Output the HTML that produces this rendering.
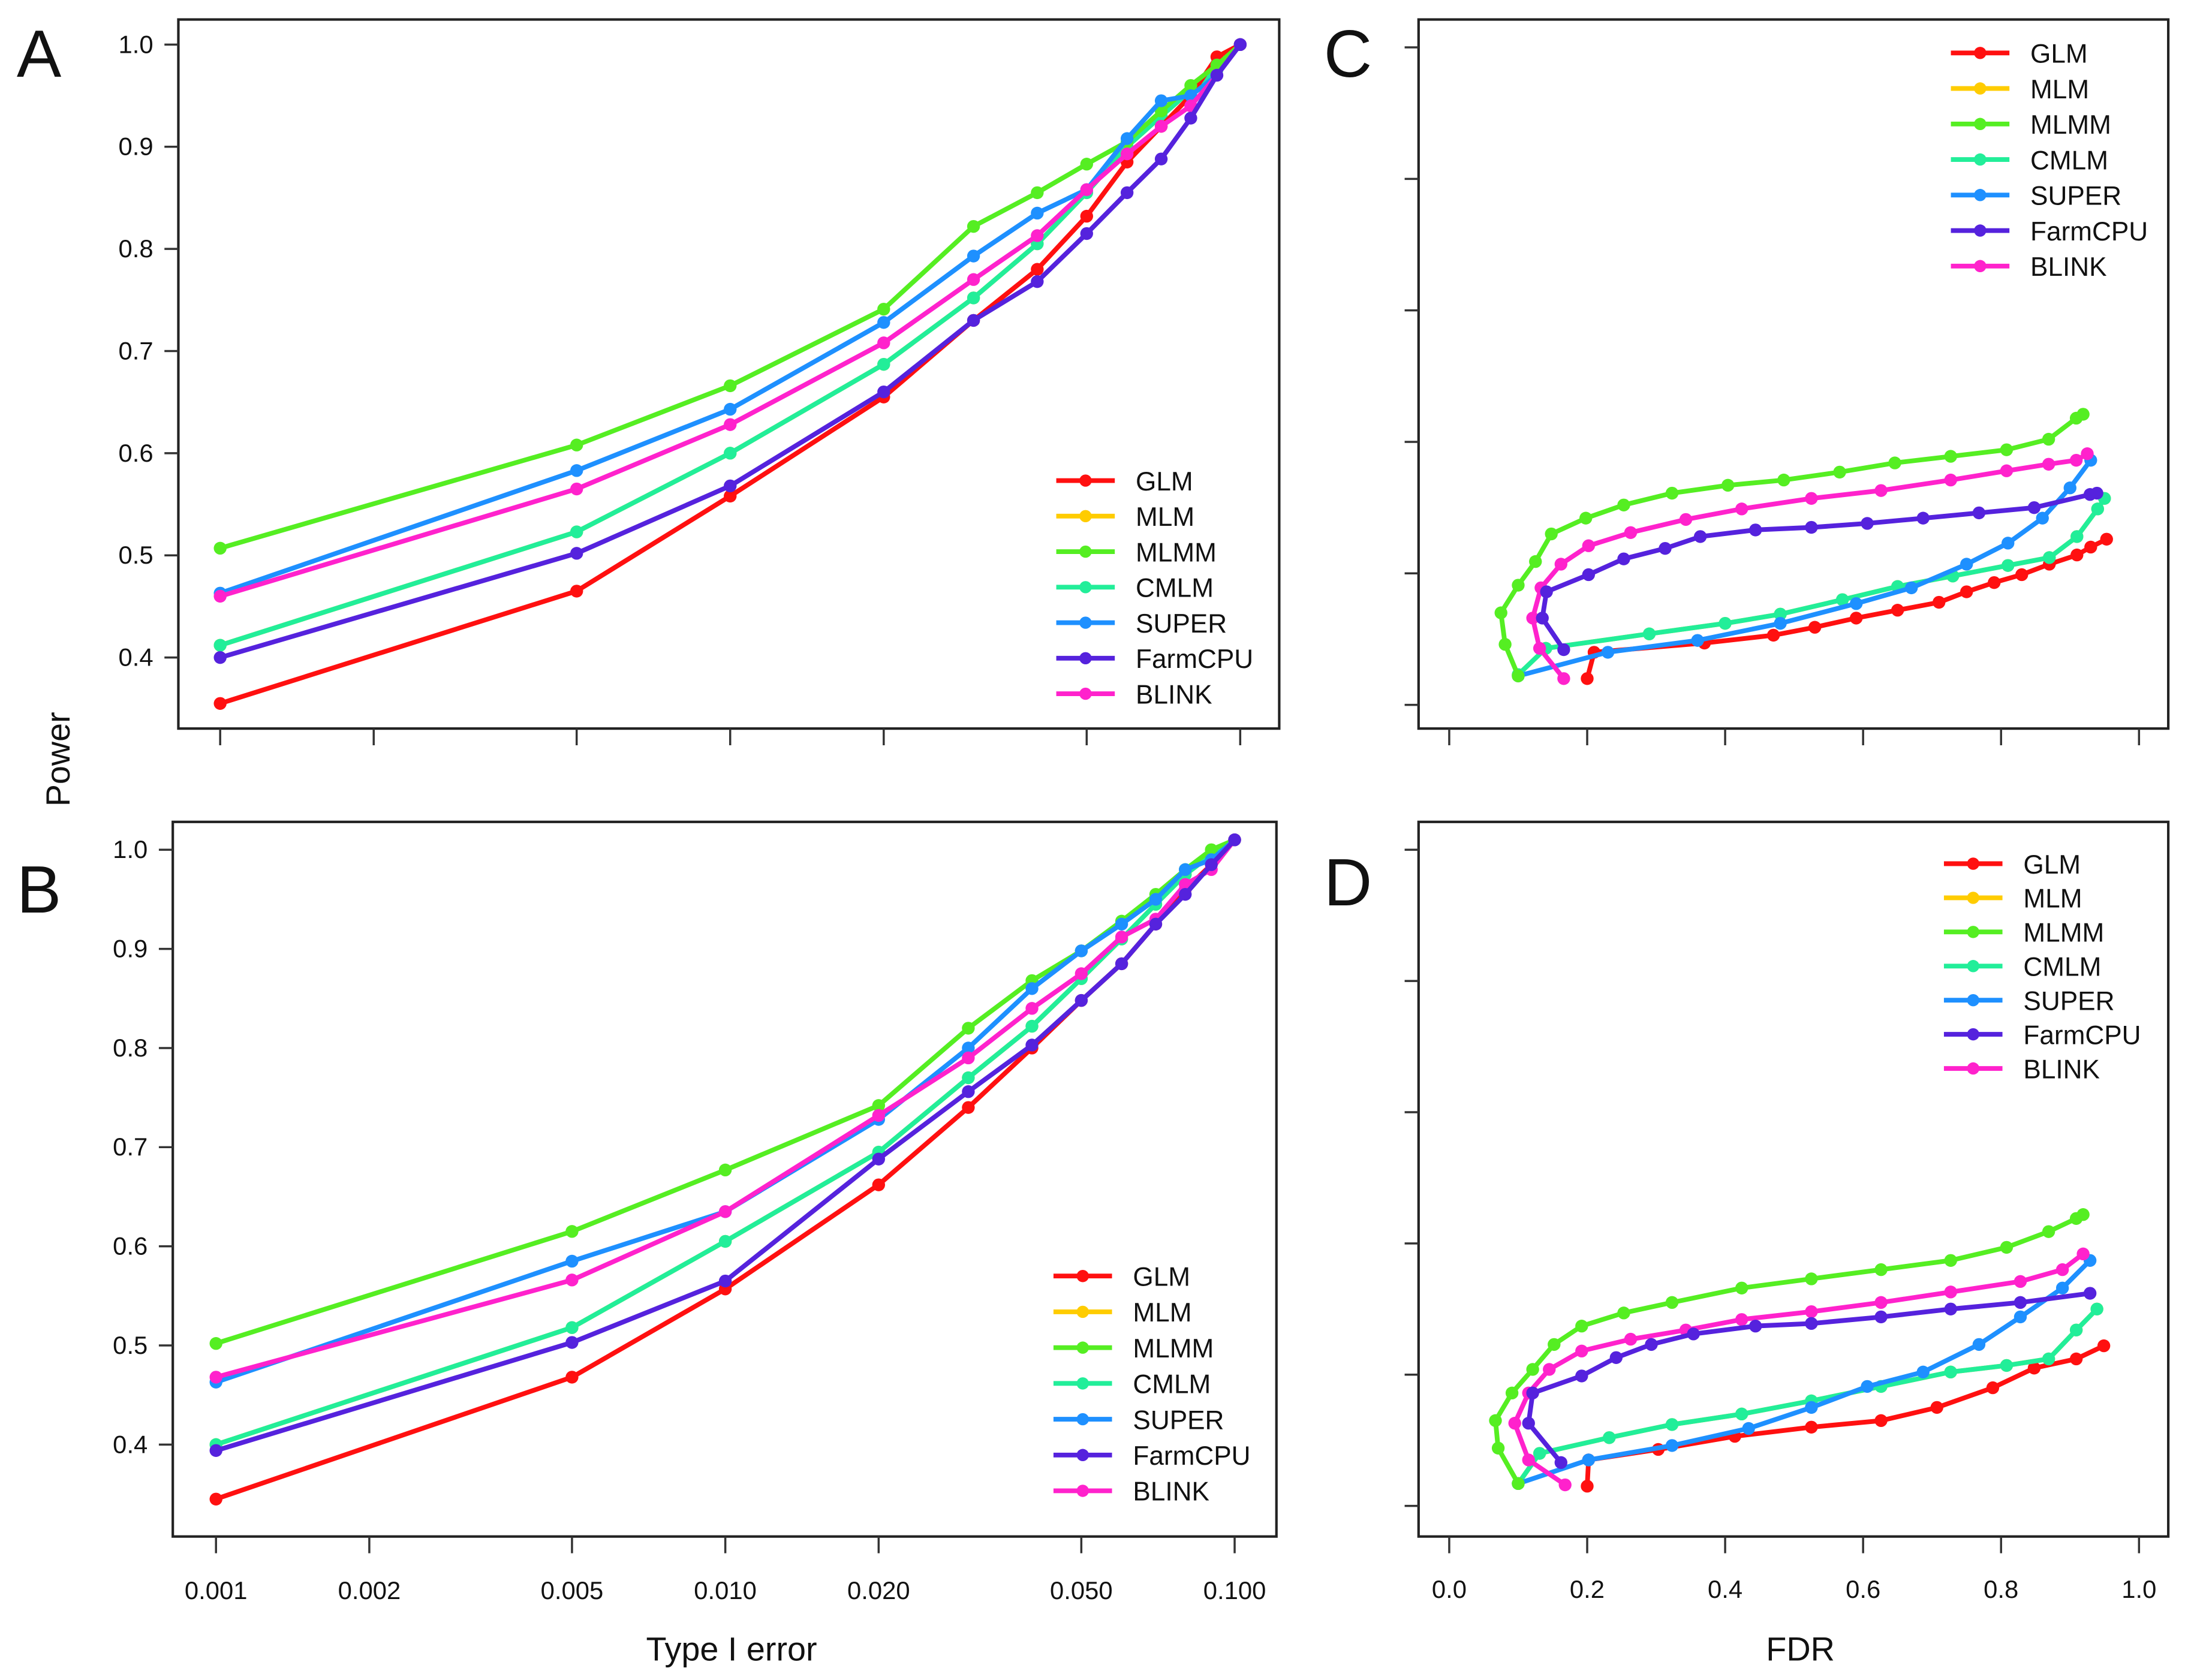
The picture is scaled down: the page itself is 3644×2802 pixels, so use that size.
<!DOCTYPE html>
<html><head><meta charset="utf-8"><style>
html,body{margin:0;padding:0;background:#fff;}
svg{display:block;font-family:"Liberation Sans",sans-serif;}
</style></head><body>
<svg id="fig" width="3644" height="2802" viewBox="0 0 1568 1206" preserveAspectRatio="none" xmlns="http://www.w3.org/2000/svg"></svg>
<script>
const methods = ["GLM","MLM","MLMM","CMLM","SUPER","FarmCPU","BLINK"];
const colors = ["#ff1010","#ffcc00","#55ee22","#22ee99","#1e90ff","#5522dd","#ff22cc"];
const typeIErrors = [0.001,0.005,0.01,0.02,0.03,0.04,0.05,0.06,0.07,0.08,0.09,0.1];
const xTickLabelsA = ["0.001","0.002","0.005","0.010","0.020","0.050","0.100"];
const xTickValsA = [0.001,0.002,0.005,0.01,0.02,0.05,0.1];
const yTickVals = [0.4,0.5,0.6,0.7,0.8,0.9,1.0];
const fdrTicks = [0,0.2,0.4,0.6,0.8,1.0];
const fdrTickLabels = ["0.0","0.2","0.4","0.6","0.8","1.0"];
const powerTicksCD = [0.3,0.4,0.5,0.6,0.7,0.8];

const A_GLM = [0.355,0.465,0.558,0.655,0.73,0.78,0.832,0.885,0.92,0.95,0.988,1.0];
const A_MLMM = [0.507,0.608,0.666,0.741,0.822,0.855,0.883,0.905,0.935,0.96,0.98,1.0];
const A_CMLM = [0.412,0.523,0.6,0.687,0.752,0.805,0.855,0.9,0.93,0.955,0.975,1.0];
const A_MLM = A_CMLM.slice();
const A_SUPER = [0.463,0.583,0.643,0.728,0.793,0.835,0.858,0.908,0.945,0.95,0.97,1.0];
const A_FarmCPU = [0.4,0.502,0.568,0.66,0.73,0.768,0.815,0.855,0.888,0.928,0.97,1.0];
const A_BLINK = [0.46,0.565,0.628,0.708,0.77,0.813,0.858,0.893,0.92,0.94,0.97,1.0];

const B_GLM = [0.345,0.468,0.557,0.662,0.74,0.8,0.848,0.885,0.925,0.96,0.985,1.01];
const B_MLMM = [0.502,0.615,0.677,0.742,0.82,0.868,0.898,0.928,0.955,0.98,1.0,1.01];
const B_CMLM = [0.4,0.518,0.605,0.695,0.77,0.822,0.87,0.91,0.945,0.975,0.995,1.01];
const B_MLM = B_CMLM.slice();
const B_SUPER = [0.463,0.585,0.635,0.728,0.8,0.86,0.898,0.925,0.95,0.98,0.99,1.01];
const B_FarmCPU = [0.394,0.503,0.565,0.688,0.756,0.803,0.848,0.885,0.925,0.955,0.985,1.01];
const B_BLINK = [0.468,0.566,0.635,0.732,0.79,0.84,0.875,0.912,0.93,0.965,0.98,1.01];

const C_GLM_fdr = [0.2,0.21,0.37,0.47,0.53,0.59,0.65,0.71,0.75,0.79,0.83,0.87,0.91,0.93,0.953];
const C_GLM_pow = [0.32,0.34,0.347,0.353,0.359,0.366,0.372,0.378,0.386,0.393,0.399,0.407,0.414,0.42,0.426];
const C_CMLM_fdr = [0.10,0.14,0.29,0.40,0.48,0.57,0.65,0.73,0.81,0.87,0.91,0.94,0.95];
const C_CMLM_pow = [0.323,0.343,0.354,0.362,0.369,0.38,0.39,0.398,0.406,0.412,0.428,0.449,0.457];
const C_SUPER_fdr = [0.10,0.23,0.36,0.48,0.59,0.67,0.75,0.81,0.86,0.90,0.93];
const C_SUPER_pow = [0.322,0.34,0.349,0.362,0.377,0.389,0.407,0.423,0.442,0.465,0.486];
const C_MLMM_fdr = [0.10,0.081,0.075,0.10,0.125,0.148,0.198,0.253,0.323,0.404,0.485,0.566,0.646,0.727,0.808,0.869,0.909,0.919];
const C_MLMM_pow = [0.322,0.346,0.37,0.391,0.409,0.43,0.442,0.452,0.461,0.467,0.471,0.477,0.484,0.489,0.494,0.502,0.518,0.521];
const C_FarmCPU_fdr = [0.166,0.135,0.141,0.202,0.253,0.313,0.364,0.444,0.525,0.606,0.687,0.768,0.848,0.929,0.939];
const C_FarmCPU_pow = [0.342,0.366,0.386,0.399,0.411,0.419,0.428,0.433,0.435,0.438,0.442,0.446,0.45,0.46,0.461];
const C_BLINK_fdr = [0.166,0.131,0.121,0.133,0.162,0.202,0.263,0.343,0.424,0.525,0.626,0.727,0.808,0.869,0.909,0.925];
const C_BLINK_pow = [0.32,0.343,0.366,0.389,0.407,0.421,0.431,0.441,0.449,0.457,0.463,0.471,0.478,0.483,0.486,0.491];

const D_GLM_fdr = [0.2,0.202,0.303,0.414,0.525,0.626,0.707,0.788,0.848,0.909,0.949];
const D_GLM_pow = [0.315,0.335,0.343,0.353,0.36,0.365,0.375,0.39,0.405,0.412,0.422];
const D_CMLM_fdr = [0.10,0.131,0.232,0.323,0.424,0.525,0.626,0.727,0.808,0.869,0.909,0.939];
const D_CMLM_pow = [0.317,0.34,0.352,0.362,0.37,0.38,0.391,0.402,0.407,0.412,0.434,0.45];
const D_SUPER_fdr = [0.10,0.202,0.323,0.434,0.525,0.606,0.687,0.768,0.828,0.889,0.929];
const D_SUPER_pow = [0.317,0.335,0.346,0.359,0.375,0.391,0.402,0.423,0.444,0.466,0.487];
const D_MLMM_fdr = [0.10,0.071,0.067,0.091,0.121,0.152,0.192,0.253,0.323,0.424,0.525,0.626,0.727,0.808,0.869,0.909,0.919];
const D_MLMM_pow = [0.317,0.344,0.365,0.386,0.404,0.423,0.437,0.447,0.455,0.466,0.473,0.48,0.487,0.497,0.509,0.519,0.522];
const D_FarmCPU_fdr = [0.162,0.115,0.121,0.192,0.242,0.293,0.354,0.444,0.525,0.626,0.727,0.828,0.929];
const D_FarmCPU_pow = [0.333,0.363,0.386,0.399,0.413,0.423,0.431,0.437,0.439,0.444,0.45,0.455,0.462];
const D_BLINK_fdr = [0.168,0.115,0.095,0.115,0.145,0.192,0.263,0.343,0.424,0.525,0.626,0.727,0.828,0.889,0.919];
const D_BLINK_pow = [0.316,0.335,0.363,0.386,0.404,0.418,0.427,0.434,0.442,0.448,0.455,0.463,0.471,0.48,0.492];

const NS = "http://www.w3.org/2000/svg";
const svg = document.getElementById("fig");
function mk(tag, attrs, parent){
  const e = document.createElementNS(NS, tag);
  for (const k in attrs) e.setAttribute(k, attrs[k]);
  (parent||svg).appendChild(e);
  return e;
}
function txt(s, x, y, size, anchor, parent, rot){
  const t = mk("text", {x:x, y:y, "font-size":size, "text-anchor":anchor||"middle", fill:"#111"}, parent);
  if (rot) t.setAttribute("transform", rot);
  t.textContent = s;
  return t;
}
function series(g, xs, ys, sx, sy, color, name){
  const pts = xs.map((v,i)=>sx(v).toFixed(1)+","+sy(ys[i]).toFixed(1)).join(" ");
  const pl = mk("polyline", {points:pts, fill:"none", stroke:color, "stroke-width":3.4, "stroke-linejoin":"round"}, g);
  
  
  xs.forEach((v,i)=>{
    const c = mk("circle", {cx:sx(v), cy:sy(ys[i]), r:4.6, fill:color}, g);
    
    
  });
}
function legend(g, x, y0, dy){
  methods.forEach((m,i)=>{
    const y = y0 + i*dy;
    const le = mk("g", {}, g);
    
    
    mk("line", {x1:x, x2:x+42, y1:y, y2:y, stroke:colors[i], "stroke-width":3.4}, le);
    mk("circle", {cx:x+21, cy:y, r:4.4, fill:colors[i]}, le);
    txt(m, x+57, y+7, 19, "start", le);
  });
}
function panelLetter(s, x, y){
  const t = txt(s, x, y, 48, "start");
  
  
}

function panelAB(id, box, x0px, x1px, y1px, y04px, data, showX, legY, legDy){
  const g = mk("g", {});
  
  
  const sx = v => x0px + (Math.log10(v) - Math.log10(0.001)) / 2 * (x1px - x0px);
  const sy = v => y1px + (1.0 - v) / 0.6 * (y04px - y1px);
  const fr = mk("rect", {x:box[0], y:box[1], width:box[2]-box[0], height:box[3]-box[1], fill:"none", stroke:"#222", "stroke-width":1.8}, g);
  
  
  yTickVals.forEach(v=>{
    mk("line", {x1:box[0]-10, x2:box[0], y1:sy(v), y2:sy(v), stroke:"#333", "stroke-width":1.5}, g);
    const t = txt(v.toFixed(1), box[0]-18, sy(v)+6, 18, "end", g);
    
    
  });
  xTickValsA.forEach((v,i)=>{
    mk("line", {x1:sx(v), x2:sx(v), y1:box[3], y2:box[3]+12, stroke:"#333", "stroke-width":1.5}, g);
    if (showX){
      const t = txt(xTickLabelsA[i], sx(v), box[3]+45, 18, "middle", g);
      
      
    }
  });
  const order = [1,3,0,2,4,6,5];
  const arrs = [data.GLM,data.MLM,data.MLMM,data.CMLM,data.SUPER,data.FarmCPU,data.BLINK];
  order.forEach(i=>series(g, typeIErrors, arrs[i], sx, sy, colors[i], id+'-'+methods[i].toLowerCase()));
  legend(g, box[2]-160, legY, legDy);
}
panelAB("a", [128,14,918,523], 158, 890, 32, 472,
  {GLM:A_GLM,MLM:A_MLM,MLMM:A_MLMM,CMLM:A_CMLM,SUPER:A_SUPER,FarmCPU:A_FarmCPU,BLINK:A_BLINK}, false, 345, 25.5);
panelAB("b", [124,590,916,1103], 155, 886, 610, 1037,
  {GLM:B_GLM,MLM:B_MLM,MLMM:B_MLMM,CMLM:B_CMLM,SUPER:B_SUPER,FarmCPU:B_FarmCPU,BLINK:B_BLINK}, true, 916, 25.7);

function panelCD(id, box, yBottomTick, yTickStep, showX, legX, legY, legDy, d){
  const g = mk("g", {});
  
  
  const sx = v => 1040 + v * 495;
  const sy = v => yBottomTick - (v - 0.3) / 0.1 * yTickStep;
  const fr = mk("rect", {x:box[0], y:box[1], width:box[2]-box[0], height:box[3]-box[1], fill:"none", stroke:"#222", "stroke-width":1.8}, g);
  
  
  powerTicksCD.forEach(v=>{
    mk("line", {x1:box[0]-10, x2:box[0], y1:sy(v), y2:sy(v), stroke:"#333", "stroke-width":1.5}, g);
  });
  fdrTicks.forEach((v,i)=>{
    mk("line", {x1:sx(v), x2:sx(v), y1:box[3], y2:box[3]+12, stroke:"#333", "stroke-width":1.5}, g);
    if (showX){
      const t = txt(fdrTickLabels[i], sx(v), box[3]+44, 18, "middle", g);
      
      
    }
  });
  const sets = [[d.GLM_fdr,d.GLM_pow],[d.CMLM_fdr,d.CMLM_pow],[d.MLMM_fdr,d.MLMM_pow],[d.CMLM_fdr,d.CMLM_pow],[d.SUPER_fdr,d.SUPER_pow],[d.FarmCPU_fdr,d.FarmCPU_pow],[d.BLINK_fdr,d.BLINK_pow]];
  [1,0,3,4,2,6,5].forEach(i=>series(g, sets[i][0], sets[i][1], sx, sy, colors[i], id+'-'+methods[i].toLowerCase()));
  legend(g, legX, legY, legDy);
}
panelCD("c", [1018,14,1556,523], 506, 94.4, false, 1400, 38, 25.5,
  {GLM_fdr:C_GLM_fdr,GLM_pow:C_GLM_pow,CMLM_fdr:C_CMLM_fdr,CMLM_pow:C_CMLM_pow,SUPER_fdr:C_SUPER_fdr,SUPER_pow:C_SUPER_pow,MLMM_fdr:C_MLMM_fdr,MLMM_pow:C_MLMM_pow,FarmCPU_fdr:C_FarmCPU_fdr,FarmCPU_pow:C_FarmCPU_pow,BLINK_fdr:C_BLINK_fdr,BLINK_pow:C_BLINK_pow});
panelCD("d", [1018,590,1556,1103], 1081, 94.2, true, 1395, 620, 24.5,
  {GLM_fdr:D_GLM_fdr,GLM_pow:D_GLM_pow,CMLM_fdr:D_CMLM_fdr,CMLM_pow:D_CMLM_pow,SUPER_fdr:D_SUPER_fdr,SUPER_pow:D_SUPER_pow,MLMM_fdr:D_MLMM_fdr,MLMM_pow:D_MLMM_pow,FarmCPU_fdr:D_FarmCPU_fdr,FarmCPU_pow:D_FarmCPU_pow,BLINK_fdr:D_BLINK_fdr,BLINK_pow:D_BLINK_pow});

panelLetter("A", 12, 55);
panelLetter("B", 12, 655);
panelLetter("C", 950, 55);
panelLetter("D", 950, 650);

const yt = txt("Power", 50, 545, 24, "middle", null, "rotate(-90 50 545)");


const xt1 = txt("Type I error", 525, 1192, 24, "middle");


const xt2 = txt("FDR", 1292, 1192, 24, "middle");


</script>
</body></html>
